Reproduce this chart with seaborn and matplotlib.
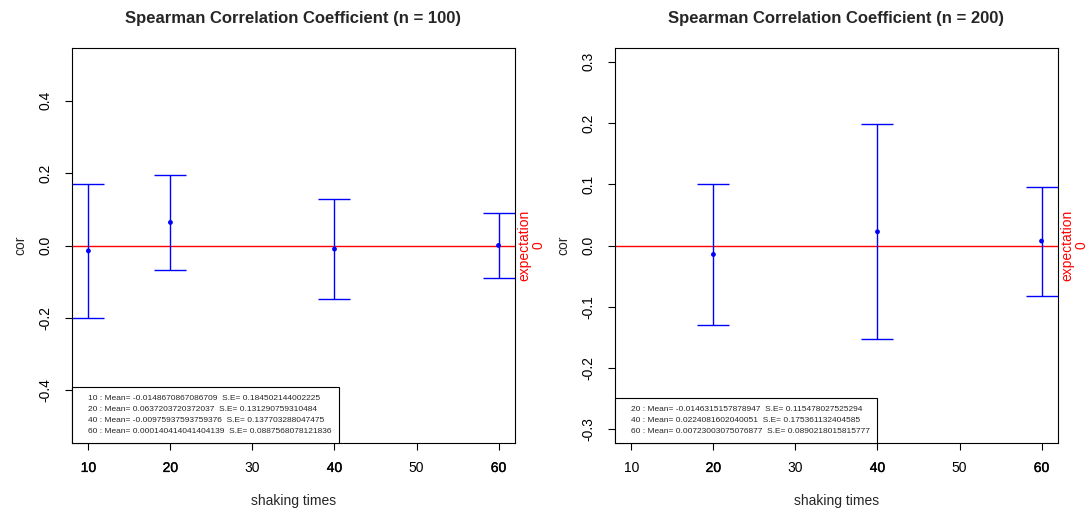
import matplotlib
matplotlib.use("Agg")
import matplotlib.pyplot as plt
import matplotlib.transforms as mtransforms
import matplotlib.patheffects as pe
from matplotlib.lines import Line2D
import pandas as pd
import seaborn as sns

# shaking times and Spearman correlation summaries (mean, standard error)
times_100 = [10, 20, 40, 60]
mean_100 = [-0.0148670867086709, 0.0637203720372037, -0.00975937593759376, 0.000140414041404139]
se_100 = [0.184502144002225, 0.131290759310484, 0.137703288047475, 0.0887568078121836]

times_200 = [20, 40, 60]
mean_200 = [-0.0146315157878947, 0.0224081602040051, 0.00723003075076877]
se_200 = [0.115478027525294, 0.175361132404585, 0.0890218015815777]

x_ticks = [10, 20, 30, 40, 50, 60]
y_ticks_100 = [-0.4, -0.2, 0.0, 0.2, 0.4]
y_ticks_200 = [-0.3, -0.2, -0.1, 0.0, 0.1, 0.2, 0.3]

sns.set_theme(style="white")
plt.rcParams["font.family"] = ["Liberation Sans", "DejaVu Sans"]
plt.rcParams["axes.edgecolor"] = "black"
plt.rcParams["axes.linewidth"] = 0.8

fig = plt.figure(figsize=(10.91, 5.12), dpi=100)
ax_l = fig.add_axes([0.066, 0.135, 0.406, 0.771])
ax_r = fig.add_axes([0.5637, 0.135, 0.406, 0.771])


def panel(ax, n, times, means, ses, yticks, ylim):
    df = pd.DataFrame({"times": times, "mean": means, "se": ses})
    ax.axhline(0, color="red", lw=1.0, zorder=1.5)
    ax.errorbar(df["times"], df["mean"], yerr=df["se"], fmt="none",
                ecolor="blue", elinewidth=1.0, capsize=11.4, capthick=1.0, zorder=2)
    sns.scatterplot(data=df, x="times", y="mean", ax=ax, color="blue",
                    s=12, edgecolor="none", zorder=3, legend=False)
    ax.set_xlim(8, 62)
    ax.set_ylim(*ylim)
    ax.set_xticks(x_ticks, [str(t) for t in x_ticks])
    ax.set_yticks(yticks, [f"{v:.1f}" for v in yticks])
    # tick labels at the sampled times are drawn a little heavier
    for t, lab in zip(x_ticks, ax.get_xticklabels()):
        if t in times:
            lab.set_path_effects([pe.withStroke(linewidth=0.25, foreground="black")])
    for lab in ax.get_yticklabels():
        lab.set_rotation(90)
        lab.set_va("center")
    ax.tick_params(axis="both", direction="out", length=5, width=0.8,
                   colors="black", labelsize=10, bottom=True, left=True)
    ax.tick_params(axis="y", pad=9)
    ax.tick_params(axis="x", pad=8)
    ax.set_xlabel("shaking times", fontsize=10, labelpad=14)
    ax.set_ylabel("cor", fontsize=10, labelpad=8)
    ax.set_title(f"Spearman Correlation Coefficient (n = {n})",
                 fontsize=12, fontweight="bold", pad=18)
    for s in ax.spines.values():
        s.set_color("black")
        s.set_linewidth(0.8)

    trans = mtransforms.blended_transform_factory(ax.transAxes, ax.transData)
    ax.text(1.005, 0, "expectation\n0", transform=trans, rotation=90,
            ha="left", va="center", color="red", fontsize=10,
            linespacing=1.0, clip_on=False, multialignment="center")

    labels = [f"{t} : Mean= {m!r}  S.E= {s!r}" for t, m, s in zip(times, means, ses)]
    handles = [Line2D([], [], linestyle="none") for _ in labels]
    leg = ax.legend(handles, labels, loc="lower left", bbox_to_anchor=(0, 0),
                    borderaxespad=0, frameon=True, fancybox=False, fontsize=6,
                    handlelength=0, handletextpad=1.0, borderpad=0.9,
                    labelspacing=0.38)
    leg.get_frame().set_edgecolor("black")
    leg.get_frame().set_linewidth(0.8)
    leg.get_frame().set_alpha(1)


panel(ax_l, 100, times_100, mean_100, se_100, y_ticks_100, (-0.545, 0.545))
panel(ax_r, 200, times_200, mean_200, se_200, y_ticks_200, (-0.322, 0.322))

fig.savefig("out.png", dpi=100)
